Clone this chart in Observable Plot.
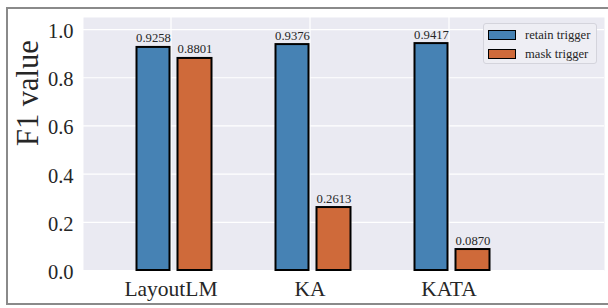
<!DOCTYPE html>
<html>
<head>
<meta charset="utf-8">
<script src="https://cdn.jsdelivr.net/npm/d3@7"></script>
<script src="https://cdn.jsdelivr.net/npm/@observablehq/plot@0.6"></script>
<style>
  html, body { margin: 0; padding: 0; background: #fff; }
  #wrap { position: relative; width: 608px; height: 308px; overflow: hidden; }
  #border { position: absolute; left: 6px; top: 7px; width: 640px; height: 298px;
            border: 2px solid #8a8a8a; box-sizing: border-box; pointer-events: none; }
  #legend { position: absolute; left: 483px; top: 23px; width: 114px; height: 41px;
            box-sizing: border-box; background: #eeeef4; border: 1px solid #d4d4dc;
            border-radius: 3px; font-family: "Liberation Serif", serif; font-size: 12.6px;
            color: #262626; }
  .item { position: absolute; left: 4px; height: 10px; display: flex; align-items: center; }
  .sw { width: 26px; height: 8px; border: 1.5px solid #000; margin-right: 9px; }
  #chart svg text { font-family: "Liberation Serif", "Times New Roman", serif; font-variant-numeric: normal; }
</style>
</head>
<body>
<div id="wrap"><div id="chart"></div><div id="legend"></div><div id="border"></div></div>
<script>
const categories = ["LayoutLM", "KA", "KATA"];
const seriesNames = ["retain trigger", "mask trigger"];
const retainValues = [0.9258, 0.9376, 0.9417];
const maskValues = [0.8801, 0.2613, 0.0870];
const yTicks = [0.0, 0.2, 0.4, 0.6, 0.8, 1.0];
const colors = ["#4682b4", "#cf6a3a"];
const yLabel = "F1 value";

const retain = categories.map((c, i) => ({cat: c, value: retainValues[i]}));
const mask = categories.map((c, i) => ({cat: c, value: maskValues[i]}));

const serif = "Liberation Serif";
const half = 69.5;

const chart = Plot.plot({
  width: 608,
  height: 308,
  marginLeft: 83,
  marginRight: 4,
  marginTop: 17,
  marginBottom: 38,
  style: {fontFamily: serif, color: "#262626", background: "transparent"},
  x: {type: "band", domain: categories, range: [100.5, 517.5], padding: 0},
  y: {domain: [0, 1.05]},
  marks: [
    Plot.frame({fill: "#eaeaf2", stroke: null}),
    Plot.gridY(yTicks, {stroke: "#ffffff", strokeOpacity: 1, strokeWidth: 1.2}),
    Plot.gridX({stroke: "#ffffff", strokeOpacity: 1, strokeWidth: 1.2}),
    Plot.barY(retain, {x: "cat", y: "value", fill: colors[0], stroke: "#000", strokeWidth: 2,
      insetLeft: half - 34, insetRight: half + 1}),
    Plot.barY(mask, {x: "cat", y: "value", fill: colors[1], stroke: "#000", strokeWidth: 2,
      insetLeft: half + 7, insetRight: half - 41}),
    Plot.text(retain, {x: "cat", y: "value", text: d => d3.format(".4f")(d.value),
      dx: -17.5, dy: -5, lineAnchor: "bottom", fontSize: 12.7, fill: "#262626", fontFamily: serif}),
    Plot.text(mask, {x: "cat", y: "value", text: d => d3.format(".4f")(d.value),
      dx: 24, dy: -5, lineAnchor: "bottom", fontSize: 12.7, fill: "#262626", fontFamily: serif}),
    Plot.axisY(yTicks, {tickSize: 0, tickPadding: 10, fontSize: 20.5, tickFormat: d3.format(".1f"),
      label: null, dy: 2, fill: "#262626", fontFamily: serif}),
    Plot.axisX({tickSize: 0, tickPadding: 10, fontSize: 21.5, label: null, fill: "#262626", fontFamily: serif}),
    Plot.text([yLabel], {frameAnchor: "left", text: d => d, rotate: -90, dx: -46, dy: 2,
      lineAnchor: "bottom", fontSize: 30.5, fill: "#262626", fontFamily: serif})
  ]
});
document.getElementById("chart").appendChild(chart);

const legend = document.getElementById("legend");
seriesNames.forEach((name, i) => {
  const item = document.createElement("div");
  item.className = "item";
  item.style.top = (i === 0 ? 6 : 25) + "px";
  const sw = document.createElement("div");
  sw.className = "sw";
  sw.style.background = colors[i];
  const label = document.createElement("span");
  label.textContent = name;
  item.appendChild(sw);
  item.appendChild(label);
  legend.appendChild(item);
});
</script>
</body>
</html>
